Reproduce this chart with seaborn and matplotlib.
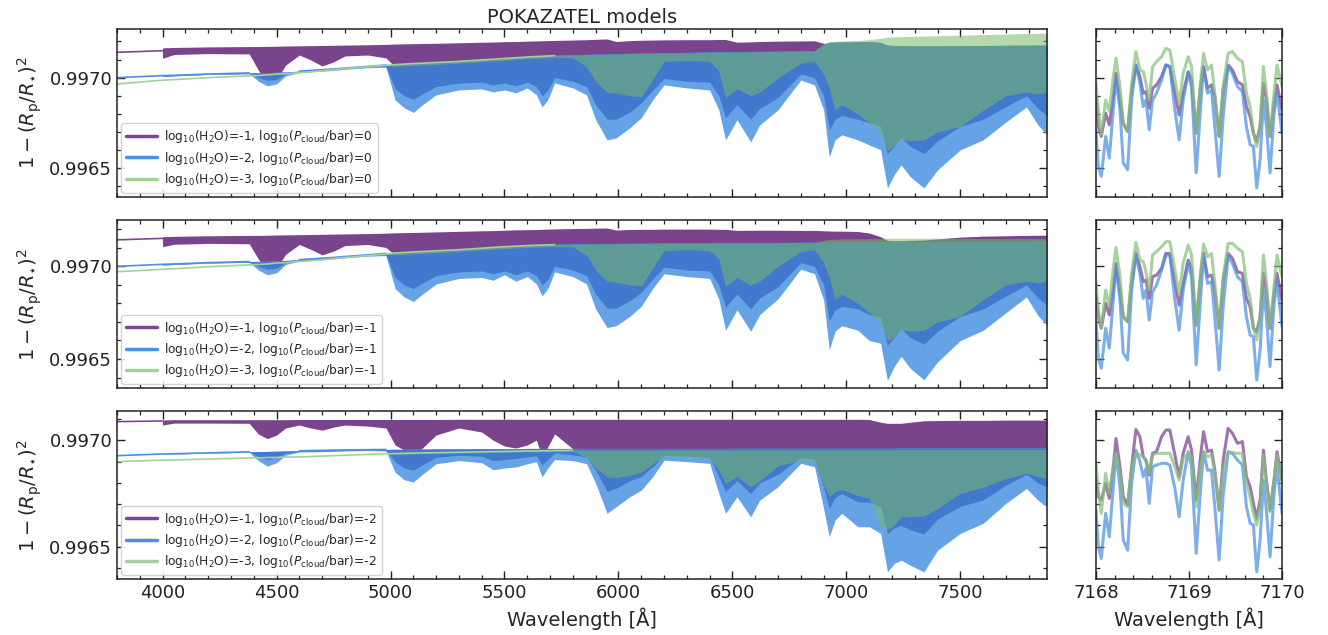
import numpy as np
import matplotlib
matplotlib.use("Agg")
import matplotlib.pyplot as plt
from matplotlib.lines import Line2D
from matplotlib.ticker import MultipleLocator, FormatStrFormatter
import seaborn as sns

# ---------------------------------------------------------------------------
# Transmission spectra, 1-(Rp/R*)^2, stored in ppm relative to 0.997.
# Each model is drawn as an envelope of its dense line forest:
#   *_top  : upper envelope, *_low : lower envelope,
#   blue_core : lower edge of the densely packed part of the -2 model.
# ---------------------------------------------------------------------------
wavelength = [3800, 3999, 4000, 4050, 4200, 4380, 4420, 4460, 4500, 4540,
              4600, 4650, 4700, 4750, 4800, 4900, 4980, 5020, 5060, 5100,
              5140, 5200, 5300, 5400, 5450, 5500, 5550, 5600, 5640, 5665,
              5690, 5720, 5800, 5860, 5900, 5950, 5990, 6050, 6100, 6150,
              6200, 6300, 6400, 6440, 6470, 6520, 6580, 6620, 6700, 6800,
              6860, 6900, 6925, 6950, 6980, 7050, 7100, 7150, 7180, 7210,
              7240, 7280, 7340, 7400, 7500, 7600, 7700, 7790, 7840, 7880]

# --- log10(Pcloud/bar) = 0 -------------------------------------------------
purple_top_0 = [140, 149, 165, 167, 170, 172, 172, 173, 174, 175,
                176, 177, 178, 179, 180, 182, 184, 186, 187, 188,
                189, 190, 193, 196, 197, 199, 200, 202, 203, 204,
                205, 206, 208, 210, 212, 214, 200, 205, 207, 208,
                209, 210, 210, 211, 211, 196, 198, 200, 202, 203,
                204, 190, 190, 192, 193, 194, 195, 190, 175, 173,
                172, 171, 171, 171, 172, 173, 174, 175, 175, 175]
purple_low_0 = [140, 149, 107, 128, 133, 131, 42, -35, -13, 70,
                125, 98, 65, 87, 120, 125, 109, 60, 60, 60,
                60, 60, 60, 60, 60, 60, 60, 60, 60, 60,
                60, 60, 60, 60, 100, 100, 100, 100, 100, 100,
                100, 100, 100, 100, 100, 100, 100, 100, 100, 100,
                100, 120, 120, 120, 120, 120, 120, 120, 120, 120,
                120, 120, 120, 120, 120, 120, 120, 120, 120, 120]
blue_top_0 = [0, 11, 11, 13, 20, 26, 27, 28, 30, 32,
              36, 40, 44, 48, 53, 62, 70, 74, 77, 80,
              82, 86, 92, 100, 104, 108, 112, 116, 119, 120,
              122, 124, 127, 129, 130, 132, 133, 135, 136, 137,
              138, 140, 142, 143, 143, 144, 145, 146, 147, 149,
              150, 185, 195, 197, 198, 199, 200, 195, 180, 178,
              177, 176, 176, 176, 177, 178, 179, 180, 180, 180]
blue_core_0 = [0, 11, 7, 10, 18, 22, 0, -15, -10, 20,
               33, 37, 41, 45, 50, 59, 62, -60, -100, -120,
               -90, -50, -30, -25, -40, -30, -45, -25, -50, -100,
               -70, 0, -20, -50, -150, -230, -230, -190, -140, -70,
               -5, -20, -25, -100, -220, -150, -230, -170, -110, 20,
               0, -100, -290, -230, -210, -230, -250, -270, -420, -380,
               -330, -380, -420, -350, -270, -230, -160, -100, -170, -210]
blue_low_0 = [0, 11, 7, 10, 18, 22, -20, -45, -35, 10,
              28, 33, 36, 40, 46, 55, 58, -123, -167, -192,
              -150, -95, -68, -62, -79, -68, -84, -57, -95, -162,
              -123, -29, -57, -95, -233, -344, -333, -277, -222, -123,
              -40, -57, -68, -178, -344, -233, -355, -261, -178, -13,
              -40, -178, -439, -344, -316, -344, -372, -399, -610, -537,
              -482, -548, -610, -510, -399, -344, -245, -162, -261, -316]
green_top_0 = [-35, -14, -14, -11, 0, 10, 12, 15, 20, 22,
               28, 32, 38, 44, 50, 60, 68, 72, 75, 78,
               80, 84, 90, 98, 102, 106, 110, 114, 117, 118,
               120, 122, 125, 127, 128, 130, 131, 133, 134, 135,
               136, 138, 140, 141, 141, 142, 143, 144, 145, 147,
               148, 185, 199, 200, 202, 206, 210, 218, 224, 226,
               227, 228, 230, 232, 235, 238, 241, 244, 245, 246]
green_low_0 = [-35, -14, -14, -11, 0, 10, 12, 15, 20, 22,
               28, 32, 38, 44, 50, 60, 68, 62, 65, 68,
               70, 74, 80, 88, 92, 96, 100, 104, 107, 108,
               110, 112, 110, 61, -20, -80, -86, -100, -105, -10,
               90, 95, 90, 40, -110, -60, -100, -80, 0, 80,
               90, 20, -60, -178, -150, -200, -250, -300, -400, -380,
               -340, -350, -344, -300, -270, -180, -100, -80, -90, -80]

# --- log10(Pcloud/bar) = -1 ------------------------------------------------
purple_top_1 = [143, 151, 160, 162, 165, 167, 167, 168, 169, 170,
                171, 172, 173, 174, 175, 177, 179, 181, 182, 183,
                184, 186, 189, 192, 193, 195, 197, 198, 199, 200,
                201, 202, 204, 205, 206, 207, 196, 199, 200, 200,
                201, 201, 201, 200, 200, 194, 195, 195, 195, 194,
                194, 192, 191, 190, 190, 188, 180, 160, 140, 138,
                138, 140, 142, 148, 158, 163, 165, 167, 168, 168]
purple_low_1 = [143, 151, 106, 119, 124, 122, 40, -30, -10, 65,
                118, 92, 62, 82, 112, 118, 102, 60, 60, 60,
                60, 60, 60, 60, 60, 60, 60, 60, 60, 60,
                60, 60, 60, 60, 100, 100, 100, 100, 100, 100,
                100, 100, 100, 100, 100, 100, 100, 100, 100, 100,
                100, 100, 100, 100, 100, 100, 100, 100, 100, 100,
                100, 100, 100, 100, 100, 100, 100, 100, 100, 100]
blue_top_1 = [0, 11, 11, 13, 20, 26, 27, 28, 30, 32,
              36, 40, 44, 48, 53, 62, 70, 74, 77, 80,
              82, 86, 92, 100, 104, 108, 111, 114, 116, 117,
              118, 119, 121, 122, 123, 124, 124, 125, 125, 126,
              126, 127, 127, 128, 128, 128, 129, 129, 129, 130,
              130, 130, 130, 131, 131, 131, 132, 132, 132, 132,
              133, 133, 133, 134, 134, 135, 135, 135, 136, 136]
blue_core_1 = [0, 11, 7, 10, 18, 22, 0, -15, -10, 20,
               33, 37, 41, 45, 50, 59, 62, -60, -100, -120,
               -90, -50, -30, -25, -40, -25, -45, -25, -50, -100,
               -70, 0, -20, -50, -150, -225, -225, -185, -140, -70,
               -5, -20, -25, -100, -220, -150, -230, -170, -110, 20,
               0, -100, -295, -235, -215, -230, -260, -275, -425, -385,
               -335, -385, -420, -350, -270, -230, -160, -100, -170, -210]
blue_low_1 = [0, 11, 7, 10, 18, 22, -20, -45, -35, 10,
              28, 33, 36, 40, 46, 55, 58, -120, -165, -190,
              -150, -95, -65, -60, -75, -45, -80, -55, -95, -160,
              -120, -30, -55, -95, -230, -330, -320, -270, -215, -120,
              -40, -55, -65, -175, -345, -235, -350, -260, -175, -15,
              -40, -180, -450, -350, -320, -345, -400, -415, -615, -540,
              -485, -550, -612, -515, -400, -345, -250, -165, -265, -320]
green_top_1 = [-29, -16, -16, -13, -2, 8, 10, 13, 18, 20,
               26, 30, 36, 42, 48, 58, 66, 72, 75, 78,
               80, 84, 90, 98, 102, 106, 109, 112, 114, 115,
               116, 117, 119, 120, 121, 122, 122, 123, 123, 124,
               124, 125, 125, 126, 126, 126, 127, 127, 127, 128,
               128, 140, 145, 147, 148, 149, 150, 150, 152, 152,
               152, 152, 152, 152, 151, 150, 150, 150, 150, 150]
green_low_1 = [-29, -16, -16, -13, -2, 8, 10, 13, 18, 20,
               26, 30, 36, 42, 48, 58, 66, 62, 65, 68,
               70, 74, 80, 88, 92, 96, 99, 102, 104, 105,
               106, 107, 105, 61, -20, -80, -86, -100, -105, -10,
               85, 90, 85, 40, -110, -60, -100, -80, 0, 80,
               90, 20, -60, -178, -150, -200, -250, -300, -400, -380,
               -340, -350, -344, -300, -270, -180, -100, -80, -90, -80]

# --- log10(Pcloud/bar) = -2 ------------------------------------------------
purple_top_2 = [88, 91, 96, 97, 97, 97, 97, 97, 97, 97,
                98, 98, 98, 98, 98, 98, 98, 98, 98, 98,
                98, 98, 99, 99, 99, 99, 99, 99, 99, 99,
                99, 99, 99, 99, 99, 99, 99, 99, 99, 99,
                99, 99, 99, 99, 99, 99, 99, 99, 99, 99,
                99, 99, 99, 99, 99, 99, 98, 85, 80, 80,
                80, 85, 92, 93, 94, 94, 95, 95, 95, 95]
purple_low_2 = [88, 91, 72, 81, 81, 80, 30, 8, 25, 58,
                72, 58, 48, 62, 72, 67, 58, -22, -46, -63,
                -36, 25, 58, 39, 1, -27, -36, -22, 1, -79,
                -31, 30, -40, -40, -40, -40, -40, -40, -40, -40,
                -40, -40, -40, -40, -40, -40, -40, -40, -40, -40,
                -40, -40, -40, -40, -40, -40, -40, -40, -40, -40,
                -40, -40, -40, -40, -40, -40, -40, -40, -40, -40]
blue_top_2 = [-72, -64, -64, -63, -59, -54, -53, -52, -51, -50,
              -49, -48, -47, -46, -45, -44, -43, -42, -42, -41,
              -41, -40, -40, -39, -39, -39, -39, -38, -38, -38,
              -38, -38, -38, -38, -38, -38, -38, -38, -38, -38,
              -38, -38, -38, -38, -38, -37, -37, -37, -37, -37,
              -37, -37, -37, -37, -37, -37, -37, -37, -37, -37,
              -36, -36, -36, -36, -36, -36, -36, -36, -36, -36]
blue_core_2 = [-72, -64, -65, -64, -60, -55, -75, -90, -80, -60,
               -52, -51, -50, -49, -48, -46, -47, -100, -130, -140,
               -115, -80, -70, -75, -95, -90, -85, -78, -72, -115,
               -90, -60, -68, -78, -140, -240, -225, -190, -170, -125,
               -70, -75, -80, -170, -240, -190, -250, -200, -160, -80,
               -90, -220, -320, -270, -250, -290, -290, -310, -440, -410,
               -400, -420, -440, -370, -310, -280, -210, -160, -200, -220]
blue_low_2 = [-72, -64, -66, -64, -60, -56, -95, -121, -105, -70,
              -55, -54, -53, -52, -50, -48, -50, -150, -185, -196,
              -160, -110, -95, -105, -138, -130, -125, -110, -100, -172,
              -130, -90, -95, -110, -202, -343, -312, -265, -234, -171,
              -93, -100, -108, -249, -343, -265, -359, -281, -218, -108,
              -124, -320, -453, -375, -343, -406, -406, -437, -618, -579,
              -563, -587, -618, -516, -437, -390, -296, -226, -281, -312]
green_top_2 = [-100, -93, -93, -92, -88, -83, -82, -81, -80, -79,
               -78, -76, -74, -72, -70, -66, -63, -62, -61, -60,
               -59, -58, -56, -54, -53, -52, -51, -50, -50, -49,
               -49, -48, -47, -46, -46, -46, -46, -46, -46, -46,
               -45, -45, -45, -45, -45, -45, -45, -45, -45, -45,
               -45, -45, -45, -45, -45, -45, -45, -45, -45, -45,
               -44, -44, -44, -44, -44, -44, -44, -44, -44, -44]
green_low_2 = [-100, -93, -93, -92, -88, -83, -82, -81, -80, -79,
               -78, -76, -74, -72, -70, -66, -63, -66, -65, -64,
               -63, -62, -60, -58, -57, -56, -55, -54, -54, -53,
               -53, -52, -51, -80, -130, -171, -175, -165, -150, -110,
               -77, -80, -85, -140, -202, -170, -218, -190, -120, -93,
               -95, -210, -265, -240, -230, -260, -270, -406, -420, -400,
               -359, -360, -355, -320, -249, -220, -180, -155, -170, -180]

# --- close-up 7168-7170 A (ppm relative to 0.997) -------------------------
zoom_wavelength = [7168.000, 7168.025, 7168.057, 7168.104, 7168.143, 7168.186, 7168.215, 7168.258, 7168.293, 7168.340,
                   7168.383, 7168.429, 7168.472, 7168.508, 7168.537, 7168.572, 7168.608, 7168.651, 7168.705, 7168.751,
                   7168.794, 7168.848, 7168.894, 7168.937, 7168.991, 7169.027, 7169.077, 7169.123, 7169.156, 7169.199,
                   7169.242, 7169.277, 7169.324, 7169.367, 7169.420, 7169.467, 7169.521, 7169.574, 7169.617, 7169.657,
                   7169.692, 7169.728, 7169.764, 7169.800, 7169.832, 7169.871, 7169.914, 7169.946, 7170.000]

zoom_purple_0 = [-105, -270, -325, -197, -261, -105, 24, -123, -252, -298,
                 -68, 70, 6, -86, -77, -169, -59, -40, 6, 70,
                 61, -86, -206, -86, 33, -13, -307, -49, 61, -59,
                 -40, -105, -325, -68, 70, 42, -22, -40, -160, -215,
                 -307, -353, -270, -31, -123, -325, -141, -40, -178]
zoom_blue_0 = [-288, -491, -546, -325, -445, -178, -3, -178, -472, -509,
               -123, 70, -31, -160, -123, -288, -123, -86, -13, 70,
               61, -178, -344, -123, 24, -49, -527, -178, 61, -86,
               -68, -270, -546, -215, 61, 24, -49, -77, -270, -371,
               -380, -610, -454, -123, -270, -527, -197, -86, -307]
zoom_green_0 = [-31, -178, -316, -123, -187, 6, 107, -49, -252, -298,
                -31, 144, 42, 33, -31, -123, 61, 88, 116, 162,
                153, -13, -141, 24, 116, 61, -307, -31, 134, 42,
                70, -86, -325, -49, 134, 144, 107, 88, -86, -160,
                -307, -380, -270, 61, -86, -325, -86, 70, -49]

zoom_purple_1 = [-155, -272, -334, -200, -262, -119, 16, -128, -272, -299,
                 -83, 70, -2, -83, -74, -173, -56, -47, -11, 70,
                 70, -92, -209, -92, 34, -11, -317, -56, 70, -56,
                 -47, -128, -334, -74, 70, 43, -29, -38, -173, -218,
                 -334, -353, -272, -38, -137, -334, -146, -38, -182]
zoom_blue_1 = [-290, -496, -550, -334, -442, -182, -2, -182, -469, -505,
               -128, 61, -38, -173, -128, -290, -137, -101, -20, 61,
               61, -182, -344, -128, 16, -56, -532, -182, 52, -92,
               -83, -272, -559, -218, 52, 16, -56, -83, -272, -371,
               -380, -613, -451, -128, -272, -541, -200, -83, -325]
zoom_green_1 = [-83, -236, -334, -128, -218, -11, 102, -56, -272, -299,
                -38, 129, 34, 25, -29, -128, 61, 79, 106, 133,
                133, -20, -146, 16, 115, 61, -317, -38, 120, 52,
                70, -92, -334, -56, 124, 124, 97, 79, -92, -173,
                -325, -397, -272, 61, -83, -334, -110, 61, -56]

zoom_purple_2 = [-187, -265, -281, -202, -273, -124, 9, -124, -265, -304,
                 -124, 51, 17, -77, -93, -163, -61, -53, 17, 48,
                 48, -69, -171, -61, 17, -46, -281, -77, 41, -53,
                 -46, -140, -328, -93, 56, 33, -14, -6, -171, -218,
                 -296, -367, -281, -46, -187, -328, -187, -53, -187]
zoom_blue_2 = [-328, -500, -555, -343, -453, -218, -61, -218, -469, -516,
               -202, -46, -100, -171, -132, -296, -124, -116, -108, -108,
               -116, -226, -359, -187, -53, -124, -531, -234, -53, -140,
               -140, -312, -563, -257, -53, -61, -93, -116, -312, -390,
               -398, -618, -469, -187, -328, -547, -249, -124, -343]
zoom_green_2 = [-100, -234, -343, -155, -249, -124, -61, -155, -296, -312,
                -124, -61, -69, -77, -100, -155, -69, -61, -61, -61,
                -61, -124, -187, -85, -61, -77, -312, -124, -53, -77,
                -69, -155, -328, -140, -61, -58, -61, -61, -202, -265,
                -343, -398, -312, -69, -202, -335, -187, -69, -202]

cloud_levels = ["0", "-1", "-2"]
water_levels = ["-1", "-2", "-3"]
y_limits = [(0.99634, 0.997269), (0.996342, 0.99725), (0.996347, 0.997138)]


def depth(ppm):
    """Convert ppm offsets into 1-(Rp/R*)^2."""
    return 0.997 + np.asarray(ppm, dtype=float) * 1e-6


rows = [
    dict(pt=purple_top_0, pl=purple_low_0, bt=blue_top_0, bc=blue_core_0, bl=blue_low_0,
         gt=green_top_0, gl=green_low_0, zp=zoom_purple_0, zb=zoom_blue_0, zg=zoom_green_0),
    dict(pt=purple_top_1, pl=purple_low_1, bt=blue_top_1, bc=blue_core_1, bl=blue_low_1,
         gt=green_top_1, gl=green_low_1, zp=zoom_purple_1, zb=zoom_blue_1, zg=zoom_green_1),
    dict(pt=purple_top_2, pl=purple_low_2, bt=blue_top_2, bc=blue_core_2, bl=blue_low_2,
         gt=green_top_2, gl=green_low_2, zp=zoom_purple_2, zb=zoom_blue_2, zg=zoom_green_2),
]

PURPLE = "#7a448c"
PURPLE_LINE = "#7d4691"
BLUE_CORE = "#4279cf"
BLUE_LIGHT = "#66a3e6"
BLUE_LINE = "#4a90e2"
GREEN = "#78b868"
GREEN_LINE = "#a3d19b"

sns.set_style("ticks")
plt.rcParams.update({
    "font.family": ["DejaVu Sans"],
    "mathtext.fontset": "dejavusans",
    "xtick.direction": "in",
    "ytick.direction": "in",
    "xtick.top": True,
    "ytick.right": True,
    "axes.edgecolor": "#222222",
    "axes.linewidth": 1.1,
})

fig = plt.figure(figsize=(13.28, 6.35), dpi=100)
row_span = [(0.6898, 0.9543), (0.3885, 0.6535), (0.0877, 0.3528)]
main_x0, main_w = 0.0881, 0.7003
zoom_x0, zoom_w = 0.8253, 0.1401

wl = np.asarray(wavelength, dtype=float)
zwl = np.asarray(zoom_wavelength, dtype=float)


def style_ticks(ax):
    ax.tick_params(which="both", direction="in", top=True, right=True,
                   colors="#222222", labelsize=13)
    ax.tick_params(which="major", length=6, width=1.0)
    ax.tick_params(which="minor", length=3, width=0.9)
    ax.yaxis.set_major_locator(MultipleLocator(0.0005))
    ax.yaxis.set_minor_locator(MultipleLocator(0.0001))
    ax.yaxis.set_major_formatter(FormatStrFormatter("%.4f"))


def thin_line(ax, top, low, color, tol=12):
    """Draw the model as a plain line wherever its envelope is narrow."""
    top = np.asarray(top, float)
    narrow = (top - np.asarray(low, float)) <= tol
    idx = np.flatnonzero(narrow)
    if idx.size == 0:
        return
    breaks = np.flatnonzero(np.diff(idx) > 1)
    for seg in np.split(idx, breaks + 1):
        if seg.size > 1:
            sns.lineplot(x=wl[seg], y=depth(top[seg]), color=color, lw=1.2, ax=ax,
                         legend=False, sort=False, estimator=None)


for i, (d, (y0, y1)) in enumerate(zip(rows, row_span)):
    ax = fig.add_axes([main_x0, y0, main_w, y1 - y0])
    axz = fig.add_axes([zoom_x0, y0, zoom_w, y1 - y0])

    # dense spectra as envelopes
    ax.fill_between(wl, depth(d["pl"]), depth(d["pt"]), color=PURPLE, lw=0)
    thin_line(ax, d["pt"], d["pl"], PURPLE_LINE)
    ax.fill_between(wl, depth(d["bl"]), depth(d["bt"]), color=BLUE_LIGHT, lw=0)
    ax.fill_between(wl, depth(d["bc"]), depth(d["bt"]), color=BLUE_CORE, lw=0)
    thin_line(ax, d["bt"], d["bl"], BLUE_LINE)
    ax.fill_between(wl, depth(d["gl"]), depth(d["gt"]), color=GREEN, alpha=0.55, lw=0)
    thin_line(ax, d["gt"], d["gl"], GREEN_LINE)

    ax.set_xlim(3800, 7880)
    ax.set_ylim(*y_limits[i])
    style_ticks(ax)
    ax.xaxis.set_major_locator(MultipleLocator(500))
    ax.xaxis.set_minor_locator(MultipleLocator(100))
    ax.set_ylabel(r"$1-(R_{\rm p}/R_{\star})^2$", fontsize=14)

    handles = [Line2D([0], [0], color=c, lw=2.5) for c in (PURPLE_LINE, BLUE_LINE, GREEN_LINE)]
    labels = [rf"$\mathrm{{log}}_{{10}}$(H$_2$O)={w}, $\mathrm{{log}}_{{10}}$($P_{{\rm cloud}}$/bar)={cloud_levels[i]}"
              for w in water_levels]
    ax.legend(handles, labels, loc="lower left", fontsize=8.8, handlelength=2.5,
              handletextpad=0.6, labelspacing=0.35, borderaxespad=0.35,
              framealpha=0.85, edgecolor="#cccccc")

    # close-up panel
    for vals, col in ((d["zp"], "#7b3f8f"), (d["zb"], BLUE_LINE), (d["zg"], "#86c07a")):
        sns.lineplot(x=zwl, y=depth(vals), color=col, lw=2.2, alpha=0.72, ax=axz,
                     legend=False, sort=False, estimator=None,
                     solid_joinstyle="round", solid_capstyle="round")
    axz.set_xlim(7168, 7170)
    axz.set_ylim(*y_limits[i])
    style_ticks(axz)
    axz.xaxis.set_major_locator(MultipleLocator(1))
    axz.xaxis.set_minor_locator(MultipleLocator(0.2))
    axz.xaxis.set_major_formatter(FormatStrFormatter("%d"))
    axz.tick_params(labelleft=False)
    axz.set_ylabel("")

    if i == 0:
        ax.set_title("POKAZATEL models", fontsize=14, pad=4)
    if i < 2:
        ax.tick_params(labelbottom=False)
        axz.tick_params(labelbottom=False)
    else:
        ax.set_xlabel("Wavelength [Å]", fontsize=14)
        axz.set_xlabel("Wavelength [Å]", fontsize=14)

fig.savefig("out.png", dpi=100)
